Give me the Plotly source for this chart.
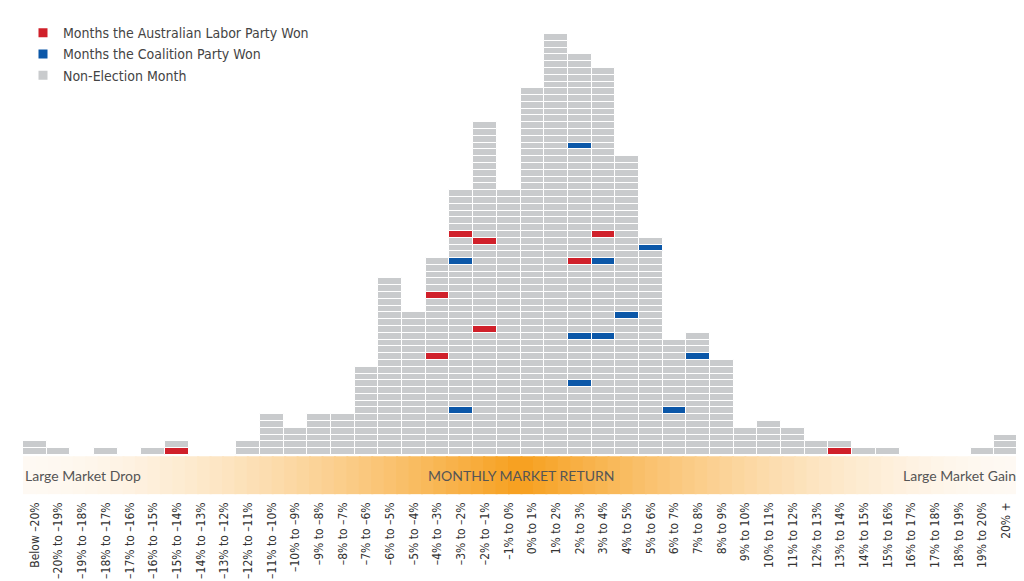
import plotly.graph_objects as go

categories = ["Below –20%"] + [f"–{i}% to –{i-1}%" for i in range(20, 1, -1)] + ["–1% to 0%"] + \
    [f"{i}% to {i+1}%" for i in range(0, 20)] + ["20% +"]
counts = [2,1,0,1,0,1,2,0,0,2,6,4,6,6,13,26,21,29,39,49,39,54,62,59,57,44,32,17,18,14,4,5,4,2,2,1,1,0,0,0,1,3]
# election blocks: (category index, block level from bottom)
labor_blocks = [(6,1),(17,24),(17,15),(18,33),(19,32),(19,19),(23,29),(24,33),(34,1)]
coalition_blocks = [(18,29),(18,7),(23,46),(23,18),(23,11),(24,29),(24,18),(25,21),(26,31),(27,7),(28,15)]

GRAY, RED, BLUE = "#c9cbcd", "#d0202a", "#0b57a8"
FONT = "Liberation Sans Narrow, DejaVu Sans Condensed, sans-serif"

lab = set(labor_blocks); coa = set(coalition_blocks)
xs, bases, cols = [], [], []
for i, c in enumerate(counts):
    for k in range(1, c + 1):
        xs.append(i); bases.append(k - 1)
        cols.append(RED if (i, k) in lab else BLUE if (i, k) in coa else GRAY)

fig = go.Figure()
fig.add_trace(go.Bar(x=xs, y=[1]*len(xs), base=bases, marker=dict(color=cols, line=dict(color="white", width=1)),
                     width=1, showlegend=False, hoverinfo="skip"))
for name, col in [("Months the Australian Labor Party Won", RED), ("Months the Coalition Party Won", BLUE), ("Non-Election Month", GRAY)]:
    fig.add_trace(go.Scatter(x=[None], y=[None], mode="markers", name=name,
                             marker=dict(symbol="square", size=9, color=col)))

# gradient band
N = 80
for j in range(N):
    a = j / N; b = (j + 1) / N
    m = (a + b) / 2
    t = max(0.0, 1 - abs(m - 0.5) / 0.5) ** 1.6
    r = int(255 + (247 - 255) * t); g = int(250 + (160 - 250) * t); bl = int(244 + (30 - 244) * t)
    fig.add_shape(type="rect", xref="paper", yref="paper", x0=a, x1=b + 0.002, y0=-0.093, y1=-0.003,
                  fillcolor=f"rgb({r},{g},{bl})", line=dict(width=0), layer="below")

for txt, xp, anc in [("Large Market Drop", 0.0, "left"), ("MONTHLY MARKET RETURN", 0.5, "center"), ("Large Market Gain", 1.0, "right")]:
    fig.add_annotation(text=txt, x=xp, y=-0.048, xref="paper", yref="paper", xanchor=anc, yanchor="middle",
                       showarrow=False, font=dict(family="Lato, sans-serif", size=14, color="#555"))

fig.update_layout(
    width=1024, height=581, barmode="overlay", bargap=0,
    margin=dict(l=15, r=14, t=26, b=134, autoexpand=False),
    plot_bgcolor="white", paper_bgcolor="white",
    xaxis=dict(range=[-0.5, 41.5], tickmode="array", tickvals=list(range(42)), ticktext=categories,
               tickangle=-90, ticklabelstandoff=44, showgrid=False, zeroline=False, showline=False,
               tickfont=dict(family=FONT, size=12, color="#333"), fixedrange=True, automargin=False),
    yaxis=dict(range=[0, 62], visible=False, fixedrange=True),
    legend=dict(xref="paper", yref="paper", x=0.0, y=1.04, xanchor="left", yanchor="top",
                font=dict(family=FONT, size=14, color="#444"), itemwidth=30, tracegroupgap=0,
                bgcolor="rgba(0,0,0,0)"),
)
fig.write_html("out.html")
